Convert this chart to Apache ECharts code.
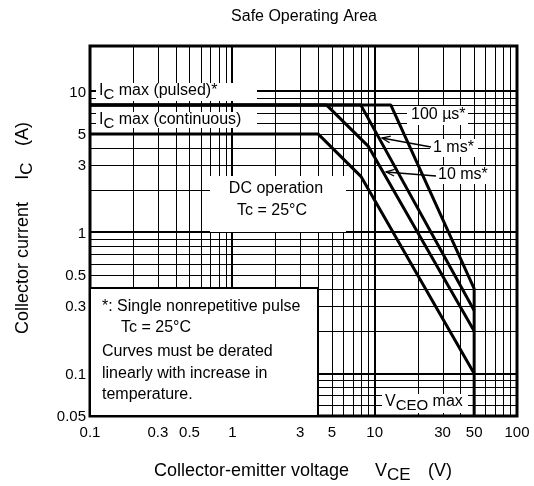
<!DOCTYPE html>
<html><head><meta charset="utf-8">
<script src="https://cdn.jsdelivr.net/npm/echarts/dist/echarts.min.js"></script>
<style>html,body{margin:0;padding:0;background:#fff}#c{width:534px;height:486px}</style>
</head><body><div id="c"></div>
<script>
// ---- data ----
const xTickLabels = [0.1, 0.3, 0.5, 1, 3, 5, 10, 30, 50, 100];
const yTickLabels = [10, 5, 3, 1, 0.5, 0.3, 0.1, 0.05];
const xMajor = [1, 10];
const xMinor = [0.2,0.3,0.4,0.5,0.6,0.7,0.8,0.9, 2,3,4,5,6,7,8,9, 20,30,40,50,60,70,80,90];
const yMajor = [0.1, 1, 10];
const yMinor = [0.06,0.07,0.08,0.09, 0.2,0.3,0.4,0.5,0.6,0.7,0.8,0.9, 2,3,4,5,6,7,8,9];

const dcV    = [0.1, 4, 8, 50];
const dcI    = [5, 5, 2.5, 0.1];
const ms10V  = [0.1, 4.6, 9, 50];
const ms10I  = [8, 8, 4.1, 0.2];
const ms1V   = [0.1, 8, 50];
const ms1I   = [8, 8, 0.28];
const us100V = [0.1, 13, 50, 50];
const us100I = [8, 8, 0.4, 0.05];

const X_MIN = 0.1, X_MAX = 100, Y_MIN = 0.05, Y_MAX = 21;
const FONT = "'Liberation Sans', Arial, sans-serif";

function pairs(xs, ys) { return xs.map((x, i) => [x, ys[i]]); }

const chart = echarts.init(document.getElementById('c'), null, {renderer: 'canvas'});

function txt(text, x, y, opts) {
  opts = opts || {};
  const size = opts.size || 16;
  return {
    type: 'text', x: opts.ex || 0, y: opts.ey || 0, rotation: opts.rotation || 0,
    style: {
      text: text, x: x, y: y, fill: '#000',
      fontSize: size, fontFamily: FONT,
      align: opts.align || 'left', verticalAlign: 'middle',
      rich: { s: { fontSize: size - 1, fontFamily: FONT, fill: '#000', padding: [8, 0, 0, 0] } }
    }
  };
}
function box(x, y, w, h, stroke) {
  return { type: 'rect', shape: {x: x, y: y, width: w, height: h},
    style: {fill: '#fff', stroke: stroke ? '#000' : null, lineWidth: stroke ? 2 : 0} };
}
function arrow(x1, y1, x2, y2) {
  const a = Math.atan2(y1 - y2, x1 - x2), L = 9, s = 0.38;
  return [
    {type: 'line', shape: {x1: x1, y1: y1, x2: x2, y2: y2}, style: {stroke: '#000', lineWidth: 1.3}},
    {type: 'polyline', shape: {points: [
      [x2 + L * Math.cos(a + s), y2 + L * Math.sin(a + s)], [x2, y2],
      [x2 + L * Math.cos(a - s), y2 + L * Math.sin(a - s)]]},
     style: {stroke: '#000', lineWidth: 1.3, fill: null}}
  ];
}

const lineStyle = {color: '#000', width: 3};
function lineSeries(name, data) {
  return { name: name, type: 'line', data: data, symbol: 'none', z: 5, silent: true,
    lineStyle: lineStyle, animation: false };
}

chart.setOption({
  animation: false,
  backgroundColor: '#fff',
  grid: { left: 90, top: 46, width: 427, height: 370, show: true, borderColor: '#000', borderWidth: 3,
          backgroundColor: 'transparent', containLabel: false, outerBoundsMode: 'none' },
  xAxis: { type: 'log', logBase: 10, min: X_MIN, max: X_MAX,
    axisLine: {show: false}, axisTick: {show: false}, axisLabel: {show: false}, splitLine: {show: false} },
  yAxis: { type: 'log', logBase: 10, min: Y_MIN, max: Y_MAX,
    axisLine: {show: false}, axisTick: {show: false}, axisLabel: {show: false}, splitLine: {show: false} },
  series: [
    { // grid lines + tick labels via the axes' scales
      type: 'custom', z: 1, silent: true, clip: false, data: [[1, 1]],
      renderItem: function (params, api) {
        const ch = [];
        const vline = (v, w) => { const a = api.coord([v, Y_MIN]), b = api.coord([v, Y_MAX]);
          const x = Math.round(a[0]) + (w % 2 ? 0.5 : 0);
          ch.push({type: 'line', shape: {x1: x, y1: a[1], x2: x, y2: b[1]}, style: {stroke: '#000', lineWidth: w}}); };
        const hline = (v, w) => { const a = api.coord([X_MIN, v]), b = api.coord([X_MAX, v]);
          const y = Math.round(a[1]) + (w % 2 ? 0.5 : 0);
          ch.push({type: 'line', shape: {x1: a[0], y1: y, x2: b[0], y2: y}, style: {stroke: '#000', lineWidth: w}}); };
        xMinor.forEach(v => vline(v, 1));
        yMinor.forEach(v => hline(v, 1));
        xMajor.forEach(v => vline(v, 2));
        yMajor.forEach(v => hline(v, 2));
        yTickLabels.forEach(v => { const p = api.coord([X_MIN, v]);
          ch.push(txt(String(v), p[0] - 4, p[1] + 1, {align: 'right', size: 15})); });
        xTickLabels.forEach(v => { const p = api.coord([v, Y_MIN]);
          ch.push(txt(String(v), p[0], p[1] + 17, {align: 'center', size: 15})); });
        return {type: 'group', children: ch};
      }
    },
    { // annotation boxes and texts
      type: 'custom', z: 3, silent: true, clip: false, data: [[1, 1]],
      renderItem: function () {
        const ch = [
          box(96, 83, 161, 18), box(96, 112, 161, 16),
          box(407, 106, 61, 19), box(430, 139, 48, 18), box(435, 166, 59, 18),
          box(210, 176, 136, 56), box(382, 394, 86, 19),
          box(90, 288, 228, 128, true),
          txt('I{s|C} max (pulsed)*', 99, 91),
          txt('I{s|C} max (continuous)', 99, 120),
          txt('100 µs*', 411, 115),
          txt('1 ms*', 433, 148),
          txt('10 ms*', 438, 175),
          txt('DC operation', 276, 189, {align: 'center'}),
          txt('Tc = 25°C', 272, 211, {align: 'center'}),
          txt('*: Single nonrepetitive pulse', 102, 307),
          txt('Tc = 25°C', 121, 328),
          txt('Curves must be derated', 102, 352),
          txt('linearly with increase in', 102, 374),
          txt('temperature.', 102, 395),
          txt('V{s|CEO} max', 385, 402),
          txt('Safe Operating Area', 304, 17, {align: 'center'}),
          txt('Collector-emitter voltage', 154, 471, {size: 18}),
          txt('V{s|CE}', 375, 471, {size: 18}),
          txt('(V)', 428, 471, {size: 18}),
          txt('Collector current', 0, 0, {align: 'center', size: 18, ex: 23, ey: 268, rotation: Math.PI / 2}),
          txt('I{s|C}', 0, 0, {align: 'center', size: 18, ex: 23, ey: 171, rotation: Math.PI / 2}),
          txt('(A)', 0, 0, {align: 'center', size: 18, ex: 23, ey: 134, rotation: Math.PI / 2})
        ].concat(arrow(431, 147, 382, 138), arrow(436, 176, 386, 172));
        return {type: 'group', children: ch};
      }
    },
    lineSeries('DC', pairs(dcV, dcI)),
    lineSeries('10 ms', pairs(ms10V, ms10I)),
    lineSeries('1 ms', pairs(ms1V, ms1I)),
    lineSeries('100 us', pairs(us100V, us100I))
  ]
});
</script></body></html>
